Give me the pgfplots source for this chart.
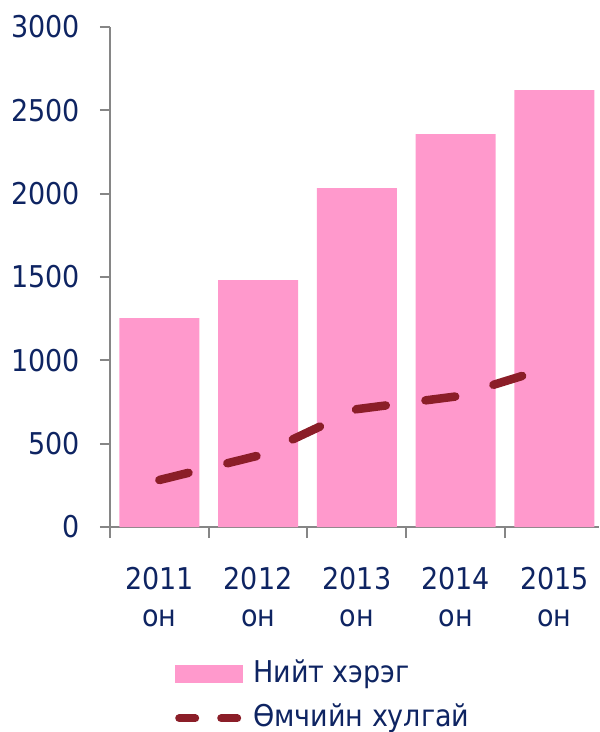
\documentclass[border=0pt]{standalone}
\usepackage{pgfplots}
\pgfplotsset{compat=1.18}
\usepackage{fontspec}
\setmainfont{DejaVu Sans Condensed}
\definecolor{txt}{HTML}{0E2462}
\definecolor{barpink}{HTML}{FF99CC}
\definecolor{linered}{HTML}{8B1E28}
\definecolor{axgray}{HTML}{868686}
\begin{document}
\begin{tikzpicture}
\begin{axis}[
  scale only axis, width=488.8pt, height=500pt,
  xmin=-0.5, xmax=4.45, ymin=0, ymax=3000,
  axis lines=left,
  axis line style={-, draw=axgray, line width=2pt},
  tick align=outside,
  ytick={0,500,...,3000},
  xtick={0,1,2,3,4},
  xticklabels={{2011\\он},{2012\\он},{2013\\он},{2014\\он},{2015\\он}},
  minor xtick={-0.5,0.5,1.5,2.5,3.5},
  major x tick style={draw=none},
  major tick length=10pt, minor tick length=11pt,
  tick style={draw=axgray, line width=2pt},
  /pgf/number format/assume math mode=true,
  /pgf/number format/1000 sep={},
  yticklabel style={font=\fontsize{30}{36}\selectfont, text=txt, anchor=east, inner sep=0pt, xshift=-20pt},
  xticklabel style={font=\fontsize{30}{37}\selectfont, text=txt, align=center, anchor=north, inner sep=0pt, yshift=-30pt},
  legend style={at={(rel axis cs:0.133,-0.266)}, anchor=north west, draw=none, fill=none, inner sep=0pt,
    font=\fontsize{30}{36}\selectfont, text=txt, row sep=16pt, column sep=10pt,
    nodes={inner sep=0pt, text height=22pt, text depth=6pt}},
  legend cell align=left,
]
\addplot[ybar, bar width=80pt, bar shift=0pt, fill=barpink, draw=none,
  legend image code/.code={\fill[barpink] (0pt,-9pt) rectangle (68pt,9pt);}]
  coordinates {(0,1254) (1,1482) (2,2034) (3,2358) (4,2622)};
\addlegendentry{Нийт хэрэг}
\addplot[linered, line width=8.5pt, line cap=round, line join=round, dash pattern=on 30pt off 40pt, mark=none,
  legend image code/.code={\draw[linered, line width=8pt, line cap=round, dash pattern=on 16pt off 26pt] (4pt,0pt) -- (62pt,0pt);}]
  coordinates {(0,282) (1,428) (2,707) (3,783) (4,966)};
\addlegendentry{Өмчийн хулгай}
\coordinate (ll) at (rel axis cs:0,0);
\end{axis}
\pgfresetboundingbox
\path ([shift={(-110pt,-205pt)}]ll) rectangle ([shift={(490pt,527pt)}]ll);
\end{tikzpicture}
\end{document}
